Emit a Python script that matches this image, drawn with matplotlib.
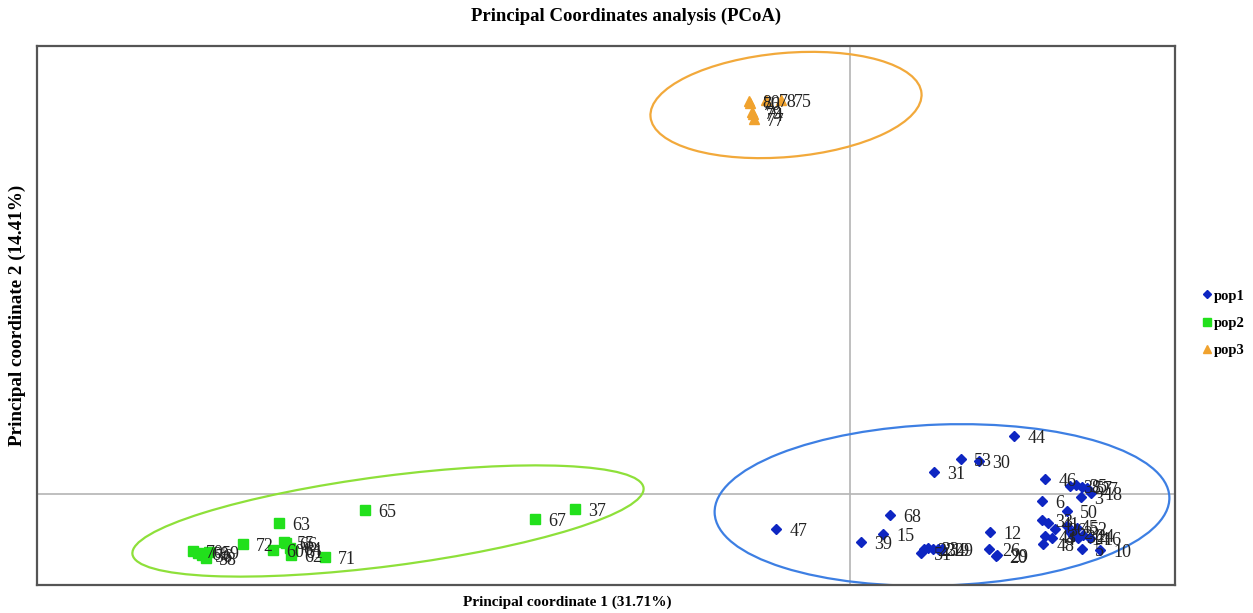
import matplotlib
matplotlib.use("Agg")
import matplotlib.pyplot as plt
from matplotlib.patches import Ellipse

plt.rcParams['font.family'] = ['Liberation Serif', 'DejaVu Serif']

# coordinate scores per sample (PC1, PC2)
pop1_ids = ['44', '53', '30', '31', '46', '38', '35', '57', '27', '3', '18', '6', '50',
            '33', '41', '36', '43', '4', '48', '45', '2', '52', '34', '14', '24', '16',
            '5', '10', '12', '26', '20', '29', '68', '15', '39', '47', '51', '22', '23',
            '32', '19', '49']
pop1_x = [0.820, 0.555, 0.645, 0.420, 0.975, 1.100, 1.130, 1.160, 1.185, 1.155, 1.205,
          0.960, 1.085, 0.960, 0.990, 1.025, 0.975, 1.010, 0.965, 1.085, 1.100, 1.135,
          1.115, 1.140, 1.165, 1.200, 1.160, 1.250, 0.700, 0.695, 0.730, 0.735, 0.200,
          0.165, 0.055, -0.370, 0.355, 0.370, 0.390, 0.415, 0.440, 0.460]
pop1_y = [0.290, 0.175, 0.165, 0.110, 0.075, 0.040, 0.045, 0.035, 0.030, -0.015, 0.005,
          -0.035, -0.085, -0.130, -0.145, -0.175, -0.210, -0.220, -0.250, -0.160,
          -0.190, -0.170, -0.210, -0.220, -0.205, -0.220, -0.275, -0.280, -0.190,
          -0.275, -0.310, -0.305, -0.105, -0.200, -0.240, -0.175, -0.295, -0.275,
          -0.270, -0.275, -0.275, -0.275]

pop2_ids = ['37', '67', '65', '63', '72', '60', '55', '66', '64', '61', '62', '71',
            '70', '69', '59', '58', '56']
pop2_x = [-1.375, -1.575, -2.425, -2.855, -3.035, -2.885, -2.830, -2.820, -2.800,
          -2.790, -2.795, -2.625, -3.285, -3.260, -3.205, -3.220, -3.240]
pop2_y = [-0.075, -0.125, -0.080, -0.145, -0.250, -0.280, -0.240, -0.245, -0.270,
          -0.285, -0.305, -0.315, -0.285, -0.295, -0.290, -0.320, -0.305]

pop3_ids = ['80', '76', '78', '75', '79', '74', '77']
pop3_x = [-0.505, -0.500, -0.420, -0.345, -0.490, -0.485, -0.480]
pop3_y = [1.965, 1.955, 1.970, 1.970, 1.910, 1.900, 1.875]

# group ellipses: centre x, centre y, width, height, angle
ell_cx = [0.46, -2.31, -0.32]
ell_cy = [-0.055, -0.135, 1.945]
ell_w = [2.275, 2.577, 1.36]
ell_h = [0.805, 0.45, 0.52]
ell_ang = [2.0, 7.4, 5.0]

groups = [
    ('pop1', pop1_ids, pop1_x, pop1_y, 'D', '#0e26c2', 5, '#3d7fe3'),
    ('pop2', pop2_ids, pop2_x, pop2_y, 's', '#22e01c', 6.5, '#8ee03a'),
    ('pop3', pop3_ids, pop3_x, pop3_y, '^', '#f0a22e', 6.5, '#f2a93b'),
]

fig = plt.figure(figsize=(12.53, 6.13), dpi=100)
ax = fig.add_axes([37 / 1253, 1 - 585 / 613, 1138 / 1253, 539 / 613])

ax.axhline(0, color='#b4b4b4', lw=1.2, zorder=0)
ax.axvline(0, color='#b4b4b4', lw=1.2, zorder=0)

handles = []
for i, (name, ids, xs, ys, mk, col, ms, ecol) in enumerate(groups):
    h, = ax.plot(xs, ys, ls='none', marker=mk, color=col, ms=ms, label=name, zorder=3)
    handles.append(h)
    for lab, x, y in zip(ids, xs, ys):
        ax.annotate(lab, (x, y), xytext=(9.5, -1.5), textcoords='offset points',
                    va='center', ha='left', fontsize=13, color='#222222', zorder=4)
    ax.add_patch(Ellipse((ell_cx[i], ell_cy[i]), ell_w[i], ell_h[i], angle=ell_ang[i],
                         fill=False, ec=ecol, lw=1.6, zorder=2))

ax.set_xlim(-4.065, 1.625)
ax.set_ylim(-0.455, 2.24)
ax.set_xticks([])
ax.set_yticks([])
for sp in ax.spines.values():
    sp.set_color('#555555')
    sp.set_linewidth(1.6)

fig.text(0.5, 1 - 16 / 613, 'Principal Coordinates analysis (PCoA)', ha='center',
         va='center', fontsize=13.5, fontweight='bold')
fig.text(567 / 1253, 1 - 602 / 613, 'Principal coordinate 1 (31.71%)', ha='center',
         va='center', fontsize=11, fontweight='bold')
fig.text(17 / 1253, 1 - 315 / 613, 'Principal coordinate 2 (14.41%)', ha='center',
         va='center', rotation=90, fontsize=13.8, fontweight='bold')

fig.legend(handles=handles, loc='center left', bbox_to_anchor=(1190 / 1253, 1 - 323 / 613),
           frameon=False, handlelength=0.5, handletextpad=0.25, labelspacing=0.95,
           markerscale=0.8, prop={'weight': 'bold', 'size': 10.5})

fig.savefig('out.png', dpi=100)
